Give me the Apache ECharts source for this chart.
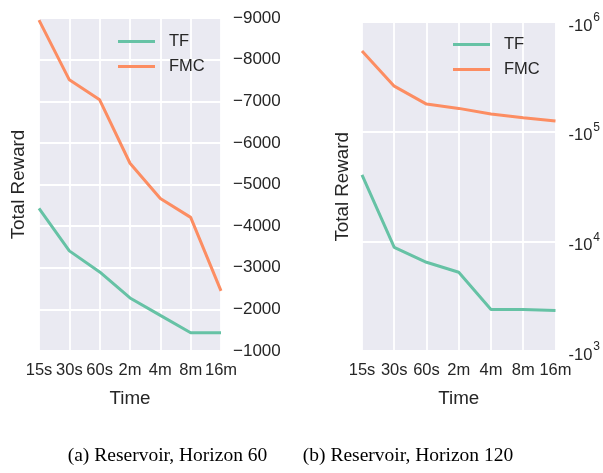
<!DOCTYPE html>
<html>
<head>
<meta charset="utf-8">
<script src="https://cdn.jsdelivr.net/npm/echarts@6/dist/echarts.min.js"></script>
<style>
  html, body { margin: 0; padding: 0; background: #ffffff; }
  #chart { width: 603px; height: 473px; }
</style>
</head>
<body>
<div id="chart"></div>
<script>
// Time budgets on the x axis
const timeLabels = ['15s', '30s', '60s', '2m', '4m', '8m', '16m'];

// Reservoir, horizon 60 (total reward)
const tfH60 = [-4425, -3405, -2900, -2275, -1855, -1440, -1440];
const fmcH60 = [-8950, -7515, -7035, -5510, -4665, -4210, -2445];

// Reservoir, horizon 120 (total reward, log scale)
const tfH120 = [-40400, -8820, -6440, -5230, -2390, -2390, -2340];
const fmcH120 = [-545000, -260000, -178500, -163000, -144700, -134100, -125000];

const seriesNames = ['TF', 'FMC'];
const seriesColors = ['#66c2a5', '#fc8d62'];

const FONT = '"Liberation Sans", Arial, sans-serif';
const TEXT = '#262626';
const BG = '#EAEAF2';

const chart = echarts.init(document.getElementById('chart'), null, { renderer: 'canvas' });

function xAxisFor(gridIndex) {
  return {
    type: 'category', gridIndex: gridIndex, data: timeLabels, boundaryGap: false,
    axisLine: { show: false }, axisTick: { show: false },
    axisLabel: { interval: 0, hideOverlap: false, color: TEXT, fontFamily: FONT, fontSize: 16.5, margin: 11 },
    splitLine: { show: true, lineStyle: { color: '#ffffff', width: 1.8 } },
    name: 'Time', nameLocation: 'middle', nameGap: 38,
    nameTextStyle: { color: TEXT, fontFamily: FONT, fontSize: 18.8 }
  };
}

function lineSeries(name, color, data, axisIndex) {
  return {
    type: 'line', name: name, data: data,
    xAxisIndex: axisIndex, yAxisIndex: axisIndex,
    symbol: 'none', smooth: false,
    lineStyle: { color: color, width: 3 }, itemStyle: { color: color }
  };
}

function legendAt(left, top) {
  return {
    data: seriesNames, orient: 'vertical', left: left, top: top, padding: 0,
    itemWidth: 37, itemHeight: 14, itemGap: 8,
    icon: 'path://M0,5.5 L37,5.5 L37,8.5 L0,8.5 Z',
    textStyle: { color: TEXT, fontFamily: FONT, fontSize: 16.5, padding: [0, 0, 0, 9] },
    selectedMode: false
  };
}

const magnitude = v => -v;

chart.setOption({
  animation: false,
  backgroundColor: '#ffffff',
  grid: [
    { left: 39, top: 18, width: 182, height: 333, show: true, backgroundColor: BG, borderWidth: 0 },
    { left: 362, top: 22, width: 194, height: 329, show: true, backgroundColor: BG, borderWidth: 0 }
  ],
  xAxis: [xAxisFor(0), xAxisFor(1)],
  yAxis: [
    {
      type: 'value', gridIndex: 0, position: 'right', inverse: true,
      min: -9000, max: -1000, interval: 1000,
      axisLine: { show: false }, axisTick: { show: false },
      axisLabel: {
        color: TEXT, fontFamily: FONT, fontSize: 17, margin: 12, align: 'left',
        formatter: v => String(v).replace('-', '\u2212')
      },
      splitLine: { show: true, lineStyle: { color: '#ffffff', width: 1.8 } }
    },
    {
      type: 'log', logBase: 10, gridIndex: 1, position: 'right',
      min: 1000, max: 1000000,
      axisLine: { show: false }, axisTick: { show: false }, minorTick: { show: false },
      axisLabel: {
        margin: 13, align: 'left',
        formatter: v => '{b|-10}{e|' + Math.round(Math.log10(v)) + '}',
        rich: {
          b: { color: TEXT, fontFamily: FONT, fontSize: 16.5, padding: [8, 0, 0, 0] },
          e: { color: TEXT, fontFamily: FONT, fontSize: 12, padding: [0, 0, 8, 1] }
        }
      },
      splitLine: { show: true, lineStyle: { color: '#ffffff', width: 1.8 } }
    }
  ],
  legend: [legendAt(118, 33), legendAt(453, 36)],
  series: [
    lineSeries(seriesNames[0], seriesColors[0], tfH60, 0),
    lineSeries(seriesNames[1], seriesColors[1], fmcH60, 0),
    lineSeries(seriesNames[0], seriesColors[0], tfH120.map(magnitude), 1),
    lineSeries(seriesNames[1], seriesColors[1], fmcH120.map(magnitude), 1)
  ],
  graphic: [
    {
      type: 'text', x: 19, y: 184.5, rotation: Math.PI / 2,
      style: { text: 'Total Reward', fill: TEXT, font: '18.8px ' + FONT, align: 'center', verticalAlign: 'middle' }
    },
    {
      type: 'text', x: 343, y: 186.8, rotation: Math.PI / 2,
      style: { text: 'Total Reward', fill: TEXT, font: '18.8px ' + FONT, align: 'center', verticalAlign: 'middle' }
    },
    {
      type: 'text', x: 167.5, y: 456,
      style: { text: '(a) Reservoir, Horizon 60', fill: '#000000', font: '19.5px "Liberation Serif", "Times New Roman", serif', align: 'center', verticalAlign: 'middle' }
    },
    {
      type: 'text', x: 408, y: 456,
      style: { text: '(b) Reservoir, Horizon 120', fill: '#000000', font: '19.5px "Liberation Serif", "Times New Roman", serif', align: 'center', verticalAlign: 'middle' }
    }
  ]
});
</script>
</body>
</html>
